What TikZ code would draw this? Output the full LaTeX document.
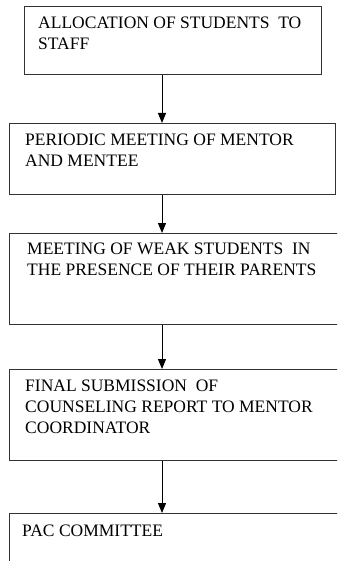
\documentclass[tikz,border=0pt]{standalone}
\usepackage{fontspec}
\setmainfont{Liberation Serif}
\usetikzlibrary{arrows.meta}
\begin{document}
\begin{tikzpicture}[x=1pt,y=-1pt,
  box/.style={draw=black!80, line width=1.2pt, anchor=north west, inner sep=0pt},
  txt/.style={anchor=base west, inner sep=0pt, align=left,
    font=\fontsize{17.5}{21}\selectfont},
  arr/.style={draw=black, line width=1pt, -{Triangle[length=10pt,width=8pt]}}]
\useasboundingbox (0,0) rectangle (337,561);
\clip (0,0) rectangle (337,561);
\fill[white] (0,0) rectangle (337,561);
% process boxes
\node[box, minimum width=297pt, minimum height=68pt] (b1) at (24,6) {};
\node[box, minimum width=326pt, minimum height=71pt] (b2) at (9,123) {};
\node[box, minimum width=340pt, minimum height=91pt] (b3) at (9,233) {};
\node[box, minimum width=340pt, minimum height=91pt] (b4) at (9,369) {};
\node[box, minimum width=340pt, minimum height=70pt] (b5) at (9,513) {};
% box labels (anchored at the baseline of their last line)
\node[txt] (t1) at (38,50) {ALLOCATION OF STUDENTS\ \ TO\\STAFF};
\node[txt] (t2) at (25,167) {PERIODIC MEETING OF MENTOR\\AND MENTEE};
\node[txt] (t3) at (27,275) {MEETING OF WEAK STUDENTS\ \ IN\\THE PRESENCE OF THEIR PARENTS};
\node[txt] (t4) at (25,433) {FINAL SUBMISSION\ \ OF\\COUNSELING REPORT TO MENTOR\\COORDINATOR};
\node[txt] (t5) at (22,536) {PAC COMMITTEE};
% connectors
\coordinate (ax) at (162,0);
\draw[arr] (ax |- b1.south) -- (ax |- b2.north);
\draw[arr] (ax |- b2.south) -- (ax |- b3.north);
\draw[arr] (ax |- b3.south) -- (ax |- b4.north);
\draw[arr] (ax |- b4.south) -- (ax |- b5.north);
\end{tikzpicture}
\end{document}
